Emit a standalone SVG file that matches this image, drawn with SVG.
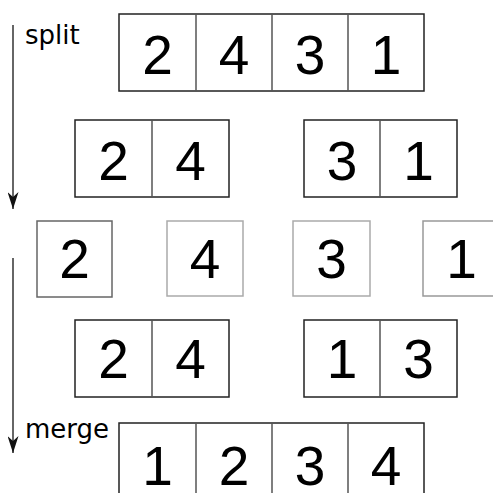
<svg xmlns="http://www.w3.org/2000/svg" width="493" height="493" viewBox="0 0 493 493">
<style>
.cell{fill:#fff;stroke:#222;stroke-width:1.5}
.div{stroke:#555;stroke-width:1.5}
.d{font-family:"Liberation Sans",Arial,sans-serif;font-size:55px;fill:#000;text-anchor:middle}
.lbl{font-family:"DejaVu Sans",sans-serif;font-size:26px;fill:#000}
.arr{stroke:#333;stroke-width:1.5;fill:none}
</style>
<defs>
<marker id="ah" markerWidth="17" markerHeight="11" refX="17" refY="5.5" orient="auto" markerUnits="userSpaceOnUse" viewBox="0 0 17 11">
<path d="M0,0 L5,5.5 L0,11 L17,5.5 Z" fill="#111"/>
</marker>
</defs>
<g id="connectors">
<line class="arr" x1="13" y1="25" x2="13" y2="209" marker-end="url(#ah)"/>
<line class="arr" x1="13" y1="258" x2="13" y2="453" marker-end="url(#ah)"/>
</g>
<g id="label-split"><text class="lbl" x="25" y="44">split</text></g>
<g id="label-merge"><text class="lbl" x="25" y="438">merge</text></g>
<g id="row1">
<rect class="cell" x="119" y="14" width="305" height="77"/>
<line class="div" x1="196" y1="14" x2="196" y2="91"/>
<line class="div" x1="272" y1="14" x2="272" y2="91"/>
<line class="div" x1="348" y1="14" x2="348" y2="91"/>
<text class="d" x="157.5" y="74">2</text>
<text class="d" x="234" y="74">4</text>
<text class="d" x="310" y="74">3</text>
<text class="d" x="386" y="74">1</text>
</g>
<g id="row2-left">
<rect class="cell" x="75" y="120" width="154" height="77"/>
<line class="div" x1="152" y1="120" x2="152" y2="197"/>
<text class="d" x="113.5" y="180">2</text>
<text class="d" x="190.5" y="180">4</text>
</g>
<g id="row2-right">
<rect class="cell" x="304" y="120" width="153" height="77"/>
<line class="div" x1="380" y1="120" x2="380" y2="197"/>
<text class="d" x="342" y="180">3</text>
<text class="d" x="418.5" y="180">1</text>
</g>
<g id="row3-2">
<rect x="37" y="221" width="75" height="76" fill="#fff" stroke="#666" stroke-width="1.5"/>
<text class="d" x="74.5" y="278">2</text>
</g>
<g id="row3-4">
<rect x="167" y="221" width="76" height="75" fill="#fff" stroke="#aaa" stroke-width="1.5"/>
<text class="d" x="205" y="278">4</text>
</g>
<g id="row3-3">
<rect x="293" y="221" width="77" height="75" fill="#fff" stroke="#aaa" stroke-width="1.5"/>
<text class="d" x="331.5" y="278">3</text>
</g>
<g id="row3-1">
<rect x="423" y="221" width="77" height="75" fill="#fff" stroke="#999" stroke-width="1.5"/>
<text class="d" x="461.5" y="278">1</text>
</g>
<g id="row4-left">
<rect class="cell" x="75" y="320" width="154" height="77"/>
<line class="div" x1="152" y1="320" x2="152" y2="397"/>
<text class="d" x="113.5" y="378">2</text>
<text class="d" x="190.5" y="378">4</text>
</g>
<g id="row4-right">
<rect class="cell" x="304" y="320" width="153" height="77"/>
<line class="div" x1="380" y1="320" x2="380" y2="397"/>
<text class="d" x="342" y="378">1</text>
<text class="d" x="418.5" y="378">3</text>
</g>
<g id="row5">
<rect class="cell" x="119" y="423" width="305" height="77"/>
<line class="div" x1="196" y1="423" x2="196" y2="500"/>
<line class="div" x1="272" y1="423" x2="272" y2="500"/>
<line class="div" x1="348" y1="423" x2="348" y2="500"/>
<text class="d" x="157.5" y="485">1</text>
<text class="d" x="234" y="485">2</text>
<text class="d" x="310" y="485">3</text>
<text class="d" x="386" y="485">4</text>
</g>
</svg>
